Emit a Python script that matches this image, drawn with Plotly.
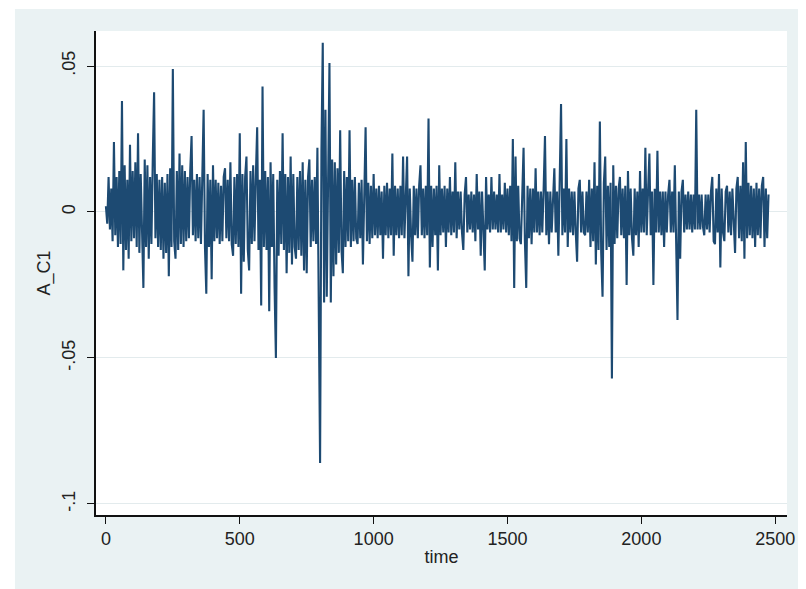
import plotly.graph_objects as go

# A_C1 series, values (one value every 5 time steps)
seg = [
    [.002,-.004,.012,-.006,.008,-.010,.024,-.008,.012,-.012,.014,-.011,.038,-.020,.016,-.013,.011,-.016,.023,-.010],
    [.014,-.009,.017,-.012,.027,-.014,.013,-.010,-.026,.018,-.012,.016,-.016,.012,-.011,.018,.041,-.009,.013,-.012],
    [.011,-.013,.012,-.016,.010,-.014,.013,-.022,.015,-.012,.049,-.010,-.016,.014,-.013,.020,-.011,.016,-.012,.014],
    [-.010,.012,-.009,.014,.026,-.008,.011,-.010,.013,-.009,.012,-.011,.016,.035,-.012,-.028,.013,-.012,.011,-.023],
    [.016,-.010,.011,-.009,.010,-.011,.009,-.010,.012,.015,-.009,.011,-.010,.017,-.011,-.015,.012,-.011,.013,-.012],
    [.027,-.028,.013,-.017,.012,.019,-.013,-.020,.014,-.011,.016,-.010,.012,.029,-.013,.011,-.032,.043,-.012,.014],
    [-.013,.012,-.034,.017,-.012,.013,-.026,-.050,.011,-.015,.014,-.011,.027,-.013,.013,-.021,.012,-.014,.019,-.018],
    [.013,-.012,-.016,.012,-.013,.014,-.015,.017,-.020,.011,-.021,.012,.018,-.012,.011,-.010,.012,-.011,.022,-.039],
    [-.086,.021,.058,-.031,.035,-.029,.020,.051,-.031,.018,-.022,.017,-.018,.015,-.014,.028,-.013,-.021,.014,-.012],
    [.012,-.010,.028,-.012,.011,-.010,.012,-.009,-.011,.010,-.009,.011,-.018,.012,.029,-.010,.010,-.011,.009,-.009],
    [.013,-.008,.008,-.009,.009,-.008,.007,-.016,.009,-.008,.010,-.009,.008,-.008,.020,-.015,.009,-.008,.008,-.009],
    [.009,-.008,.019,-.009,.008,.019,-.022,.008,-.008,-.017,.009,-.008,.008,-.009,.009,.016,-.008,.008,-.009,.009],
    [-.008,.032,-.019,.009,-.012,.008,-.008,.009,-.020,.016,-.008,.008,-.007,.009,-.012,.008,-.007,.012,-.008,.007],
    [-.007,.017,-.009,.007,-.006,.007,-.007,-.013,.006,.012,-.007,.006,-.006,.007,-.007,.006,-.010,.013,-.006,.007],
    [-.015,.007,-.006,-.020,.012,-.006,.006,-.007,.012,-.006,.007,-.006,.006,-.007,.013,-.007,.006,-.006,.010,-.007],
    [.008,-.008,.009,-.010,.025,-.026,.019,-.010,.009,-.009,-.011,.010,.022,-.010,-.026,.009,-.009,.008,-.011,.008],
    [-.007,.015,-.007,.007,-.008,.007,-.007,.008,.026,-.008,.007,-.011,.007,-.007,.008,.015,-.007,.007,-.015,.008],
    [.037,-.008,.008,-.007,.025,-.012,.008,-.007,.007,-.008,.007,-.007,-.017,.008,.011,-.007,.007,-.007,-.008,.007],
    [-.007,.011,-.012,.008,-.010,.017,-.018,.009,-.013,.031,-.014,-.029,.010,.019,-.013,.009,-.012,.010,-.057,.016],
    [-.011,.009,-.009,.008,.012,-.008,.008,-.009,.009,-.025,.014,-.008,.008,-.009,-.015,.008,-.008,.007,-.012,.014],
    [-.007,.008,-.007,.022,-.008,.007,.020,-.008,.007,-.025,.008,-.007,.021,-.007,.007,-.008,.007,-.012,.007,-.007],
    [.006,.011,-.007,.007,-.007,.016,-.008,-.037,.007,-.016,.007,.011,-.007,.006,-.006,.007,-.006,.006,-.007,.006],
    [-.006,.035,-.006,.006,-.006,.006,-.005,-.008,.006,-.006,.006,-.007,.007,.012,-.010,-.011,.008,-.007,.013,-.019],
    [.008,-.007,-.010,.007,.009,-.007,.007,-.008,.008,-.007,-.014,.008,.012,-.009,.009,-.010,.017,-.016,.024,-.009],
    [.010,-.008,.009,-.009,.008,-.012,.010,-.008,.008,-.009,.009,.012,-.012,.008,-.009,.006],
]
a_c1 = [v for s in seg for v in s]
time = list(range(0, 5 * len(a_c1), 5))

x_tickvals = [0, 500, 1000, 1500, 2000, 2500]
x_ticktext = ["0", "500", "1000", "1500", "2000", "2500"]
y_tickvals = [-0.1, -0.05, 0, 0.05]
y_ticktext = ["-.1", "-.05", "0", ".05"]

# page has an 8px body margin, so the figure is drawn 8px in from the top-left
W, H = 798, 581
L, R, T, B = 88, 11, 23, 74
pw, ph = W - L - R, H - T - B

fig = go.Figure()
fig.add_trace(go.Scatter(x=time, y=a_c1, mode="lines",
                         line=dict(color="#1d4a72", width=2.1), showlegend=False))

font = dict(family="Liberation Sans, Arial, sans-serif", size=18, color="#222222")

fig.update_layout(
    width=W, height=H, autosize=False,
    margin=dict(l=L, r=R, t=T, b=B, pad=0),
    paper_bgcolor="white", plot_bgcolor="white",
    font=font,
    shapes=[
        dict(type="rect", xref="paper", yref="paper", layer="below",
             x0=(6 - L) / pw, x1=(W + 5 - L) / pw,
             y0=-(B + 10) / ph, y1=(ph + T - 1) / ph,
             fillcolor="#eaf2f3", line=dict(width=0)),
        dict(type="rect", xref="paper", yref="paper", layer="below",
             x0=0, x1=1, y0=0, y1=1, fillcolor="white", line=dict(width=0)),
    ],
    xaxis=dict(range=[-37, 2544], tickvals=x_tickvals, ticktext=x_ticktext,
               showgrid=False, zeroline=False, showline=True, linecolor="#111111",
               linewidth=1.5, ticks="outside", ticklen=7, tickcolor="#111111",
               tickfont=font, title=dict(text="time", font=font, standoff=2)),
    yaxis=dict(range=[-0.1038, 0.0620], tickvals=y_tickvals, ticktext=y_ticktext,
               tickangle=-90, showgrid=True, gridcolor="#e3ebed", gridwidth=1,
               zeroline=False, showline=True, linecolor="#111111", linewidth=1.5,
               ticks="outside", ticklen=7, tickcolor="#111111", ticklabelstandoff=5,
               tickfont=font, title=dict(text="A_C1", font=font, standoff=4)),
)

fig.write_html("out.html")
